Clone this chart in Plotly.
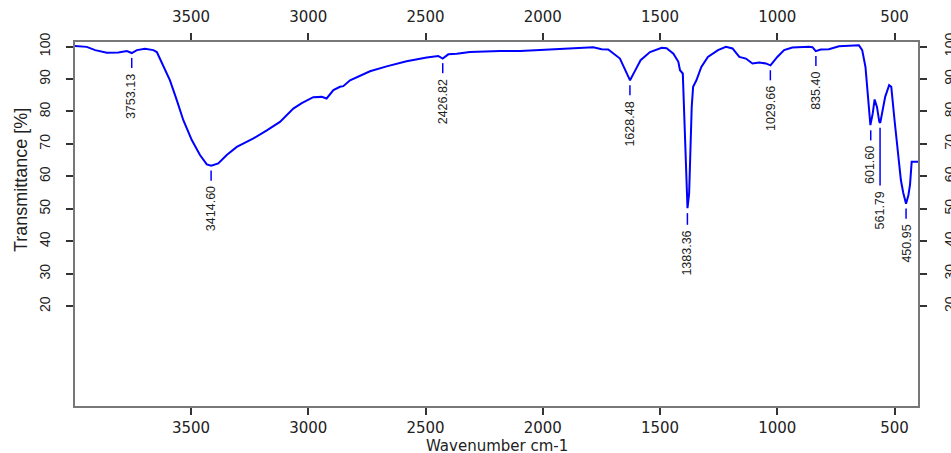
import plotly.graph_objects as go

# ---- spectrum data ----
wavenumber = [3995, 3945, 3909, 3859, 3810, 3774, 3753, 3731, 3696, 3661, 3646, 3618, 3590, 3561,
              3533, 3497, 3462, 3433, 3414, 3384, 3348, 3305, 3234, 3177, 3121, 3064, 3028, 2979,
              2943, 2922, 2893, 2865, 2851, 2822, 2780, 2737, 2666, 2581, 2495, 2446, 2427, 2403,
              2367, 2311, 2183, 2097, 2012, 1898, 1785, 1749, 1721, 1671, 1650, 1628, 1607, 1583,
              1543, 1493, 1472, 1443, 1422, 1415, 1403, 1398, 1392, 1387, 1383, 1376, 1370, 1365,
              1359, 1345, 1324, 1296, 1253, 1219, 1191, 1162, 1134, 1106, 1077, 1049, 1029, 1000,
              971, 936, 865, 850, 836, 815, 780, 737, 652, 638, 624, 613, 603, 593, 585, 575, 565,
              561, 554, 540, 523, 514, 500, 487, 473, 463, 455, 451, 441, 434, 427, 400]
transmittance = [100.2, 99.9, 98.9, 98.1, 98.2, 98.6, 98.0, 98.9, 99.3, 98.9, 98.3, 93.7, 89.6, 83.5,
                 77.3, 71.2, 66.6, 63.7, 63.3, 64.0, 66.6, 69.1, 71.7, 74.2, 76.8, 80.9, 82.6, 84.4,
                 84.5, 84.0, 86.6, 87.6, 87.8, 89.6, 90.9, 92.4, 93.9, 95.5, 96.6, 97.1, 96.3, 97.6,
                 97.8, 98.3, 98.6, 98.6, 98.9, 99.4, 99.8, 99.2, 99.1, 96.3, 93.0, 89.6, 92.5, 95.8,
                 98.3, 99.6, 99.5, 97.8, 95.3, 92.7, 91.7, 81.4, 63.0, 52.7, 50.2, 54.8, 68.1, 81.4,
                 87.6, 89.6, 93.7, 96.8, 98.9, 99.9, 99.4, 96.8, 96.3, 94.8, 95.1, 94.8, 94.2, 96.8,
                 98.9, 99.7, 99.9, 99.8, 98.6, 99.1, 99.2, 100.1, 100.4, 98.9, 93.7, 85.5, 75.8, 79.4,
                 83.7, 81.4, 76.8, 76.5, 79.4, 84.5, 88.1, 87.6, 77.3, 68.1, 58.9, 55.0, 51.9, 51.6,
                 54.2, 57.5, 64.5, 64.5]

# ---- peak labels ----
peak_wn = [3753.13, 3414.60, 2426.82, 1628.48, 1383.36, 1029.66, 835.40, 601.60, 561.79, 450.95]
peak_t = [98.0, 63.3, 96.4, 89.6, 50.2, 94.2, 98.6, 75.7, 76.5, 51.6]
peak_text = ["3753.13", "3414.60", "2426.82", "1628.48", "1383.36", "1029.66", "835.40",
             "601.60", "561.79", "450.95"]
peak_line_len = [3.1, 3.1, 3.1, 3.1, 3.6, 3.1, 3.1, 3.1, 17.8, 3.1]

x_ticks = [3500, 3000, 2500, 2000, 1500, 1000, 500]
y_ticks = [20, 30, 40, 50, 60, 70, 80, 90, 100]
x_range = [3995, 400]
y_range = [-10.7, 101.4]

x_title = "Wavenumber cm-1"
y_title = "Transmittance [%]"

LINE_GAP = 1.5   # gap between peak and its marker line (data units)
TEXT_GAP = 1.2   # gap between marker line and label (data units)

BLUE = "#0000ff"
AXIS_COL = "#777777"
TICK_COL = "#333333"
WIDE_FONT = "DejaVu Sans"
NARROW_FONT = "Liberation Sans Narrow, Arial Narrow, Liberation Sans, Arial"

fig = go.Figure()

fig.add_trace(go.Scatter(x=wavenumber, y=transmittance, mode="lines",
                         line=dict(color=BLUE, width=2), hoverinfo="skip", showlegend=False))
# copy on the secondary (top/right) axes so they get drawn
fig.add_trace(go.Scatter(x=wavenumber, y=transmittance, mode="lines", xaxis="x2", yaxis="y2",
                         line=dict(color="rgba(0,0,0,0)", width=0), hoverinfo="skip",
                         showlegend=False))

lx, ly = [], []
for w, t, L in zip(peak_wn, peak_t, peak_line_len):
    lx += [w, w, None]
    ly += [t - LINE_GAP, t - LINE_GAP - L, None]
fig.add_trace(go.Scatter(x=lx, y=ly, mode="lines", line=dict(color=BLUE, width=1.5),
                         hoverinfo="skip", showlegend=False))

for w, t, L, s in zip(peak_wn, peak_t, peak_line_len, peak_text):
    fig.add_annotation(x=w, y=t - LINE_GAP - L - TEXT_GAP, xref="x", yref="y", text=s,
                       showarrow=False, textangle=-90, xanchor="center", yanchor="top",
                       font=dict(family=NARROW_FONT, size=12.5, color="#222222"))

common_x = dict(range=x_range, tickmode="array", tickvals=x_ticks,
                ticktext=[str(v) for v in x_ticks], ticks="outside", ticklen=7, tickwidth=1.5,
                tickcolor=TICK_COL, showline=True, linecolor=AXIS_COL, linewidth=2,
                showgrid=False, zeroline=False, automargin=False,
                tickfont=dict(family=WIDE_FONT, size=15, color="#222222"))
common_y = dict(range=y_range, tickmode="array", tickvals=y_ticks,
                ticktext=[str(v) for v in y_ticks], ticks="outside", ticklen=7, tickwidth=1.5,
                tickcolor=TICK_COL, showline=True, linecolor=AXIS_COL, linewidth=2,
                showgrid=False, zeroline=False, tickangle=-90, automargin=False,
                tickfont=dict(family=NARROW_FONT, size=14, color="#222222"))

fig.update_layout(
    width=951, height=453,
    margin=dict(l=75, r=33, t=42, b=47, autoexpand=False),
    paper_bgcolor="white", plot_bgcolor="white",
    xaxis=dict(**common_x, side="bottom", ticklabelstandoff=0),
    xaxis2=dict(**common_x, side="top", overlaying="x", anchor="y", ticklabelstandoff=5),
    yaxis=dict(**common_y, side="left", ticklabelstandoff=10),
    yaxis2=dict(**common_y, side="right", overlaying="y", anchor="x", ticklabelstandoff=11),
    showlegend=False,
)

fig.add_annotation(text=x_title, xref="paper", yref="paper", x=0.5, y=0, xanchor="center",
                   yanchor="middle", yshift=-40, showarrow=False,
                   font=dict(family=WIDE_FONT, size=15, color="#222222"))
fig.add_annotation(text=y_title, xref="paper", yref="paper", x=0, y=0.6195, xanchor="center",
                   yanchor="middle", xshift=-54.5, textangle=-90, showarrow=False,
                   font=dict(family="Liberation Sans, Arial", size=18, color="#222222"))

fig.write_html("out.html")
